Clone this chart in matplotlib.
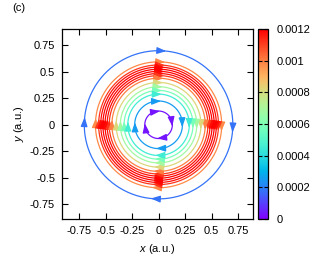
import numpy as np
import matplotlib
matplotlib.use('Agg')
import matplotlib.pyplot as plt
from matplotlib.colors import Normalize
from matplotlib.cm import ScalarMappable

plt.rcParams['font.family'] = ['Liberation Sans', 'DejaVu Sans']
plt.rcParams['mathtext.fontset'] = 'custom'
plt.rcParams['mathtext.it'] = 'Liberation Sans:italic'
plt.rcParams['mathtext.rm'] = 'Liberation Sans'

# streamline circles: radius and magnitude
radii = [0.70, 0.595, 0.565, 0.545, 0.525, 0.505, 0.485, 0.465, 0.44,
         0.40, 0.36, 0.325, 0.29, 0.225, 0.13]
magnitude = [0.00018, 0.00098, 0.00112, 0.00118, 0.0012, 0.0012, 0.00118,
             0.00112, 0.00100, 0.00082, 0.00068, 0.00058, 0.00045,
             0.00025, 0.00003]

ticks = [-0.75, -0.5, -0.25, 0, 0.25, 0.5, 0.75]
tick_labels = ['-0.75', '-0.5', '-0.25', '0', '0.25', '0.5', '0.75']
cb_ticks = [0, 0.0002, 0.0004, 0.0006, 0.0008, 0.001, 0.0012]
cb_labels = ['0', '0.0002', '0.0004', '0.0006', '0.0008', '0.001', '0.0012']

fig = plt.figure(figsize=(3.14, 2.56), dpi=100)
ax = fig.add_axes([62/314, 37/256, 191/314, 190/256])
cax = fig.add_axes([258/314, 37/256, 10/314, 190/256])

cmap = plt.cm.rainbow
norm = Normalize(0, 0.0012)

t = np.linspace(0, 2*np.pi, 400)
delta = np.deg2rad(6)
for r, m in zip(radii, magnitude):
    c = cmap(norm(m))
    ax.plot(r*np.cos(t), r*np.sin(t), color=c, lw=0.9)
    for k in range(4):
        th = k*np.pi/2 - delta
        eps = 0.06 / r
        tip = (r*np.cos(th), r*np.sin(th))
        tail = (r*np.cos(th + eps), r*np.sin(th + eps))
        ax.annotate('', xy=tip, xytext=tail,
                    arrowprops=dict(arrowstyle='-|>,head_length=0.55,head_width=0.2',
                                    color=c, lw=0.9, shrinkA=0, shrinkB=0,
                                    mutation_scale=10))

ax.set_xlim(-0.91, 0.89)
ax.set_ylim(-0.89, 0.905)
ax.set_xticks(ticks)
ax.set_xticklabels(tick_labels)
ax.set_yticks(ticks)
ax.set_yticklabels(tick_labels)
ax.tick_params(direction='in', top=True, right=True, labelsize=8, length=4,
               width=0.8, pad=5)
for s in ax.spines.values():
    s.set_linewidth(0.9)
ax.set_xlabel(r'$x$ (a.u.)', fontsize=8, labelpad=4)
ax.set_ylabel(r'$y$ (a.u.)', fontsize=8, labelpad=3)

cb = fig.colorbar(ScalarMappable(norm=norm, cmap=cmap), cax=cax)
cb.set_ticks(cb_ticks)
cb.set_ticklabels(cb_labels)
cax.tick_params(direction='in', left=True, right=True, labelsize=8, length=3,
                width=0.8, pad=6)
cb.outline.set_linewidth(0.9)

fig.text(12/314, 1 - 8/256, '(c)', fontsize=8, va='center', ha='left')

fig.savefig('out.png', dpi=100)
